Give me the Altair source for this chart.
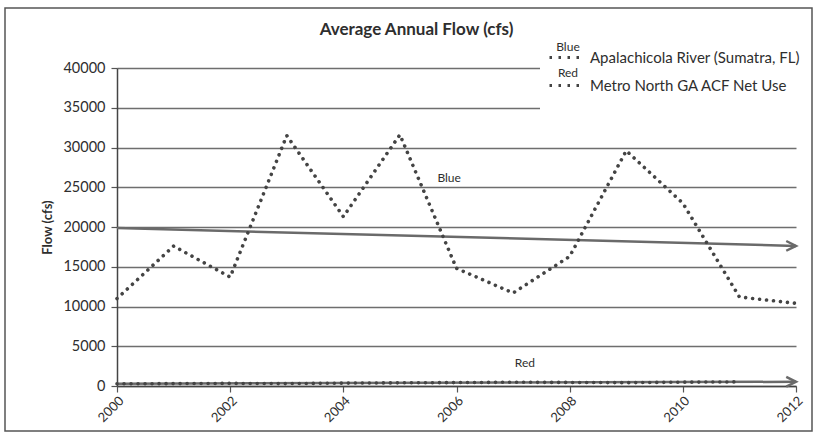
import altair as alt
import pandas as pd

# Annual average flow, Apalachicola River at Sumatra, FL (cfs)
years = [2000, 2001, 2002, 2003, 2004, 2005, 2006, 2007, 2008, 2009, 2010, 2011, 2012]
river_flow = [11000, 17600, 13700, 31500, 21300, 31600, 14800, 11700, 16300, 29600, 23000, 11200, 10400]

# Metro North Georgia ACF net water use (cfs)
use_years = [2000, 2001, 2002, 2003, 2004, 2005, 2006, 2007, 2008, 2009, 2010, 2011]
net_use = [280, 300, 330, 300, 360, 400, 430, 470, 450, 420, 480, 520]

river_name = "Apalachicola River (Sumatra, FL)"
use_name = "Metro North GA ACF Net Use"

# Hand-placed colour notes: two beside the series, two over the legend entries
note_years = [2005.87, 2007.21, 2007.97, 2007.97]
note_flows = [25300, 2000, 41800, 38500]
note_texts = ["Blue", "Red", "Blue", "Red"]

year_ticks = [2000, 2002, 2004, 2006, 2008, 2010, 2012]
flow_ticks = [0, 5000, 10000, 15000, 20000, 25000, 30000, 35000, 40000]

river_df = pd.DataFrame({"year": years, "flow": river_flow, "series": river_name})
use_df = pd.DataFrame({"year": use_years, "flow": net_use, "series": use_name})
notes_df = pd.DataFrame({"year": note_years, "flow": note_flows, "note": note_texts})
one_row = pd.DataFrame({"k": [0]})

FONT = "Lato"
INK = "#444444"
TREND = "#6a6a6a"
TEXT = "#2e2e2e"

x = alt.X(
    "year:Q",
    title=None,
    scale=alt.Scale(domain=[2000, 2012], nice=False, zero=False),
    axis=alt.Axis(values=year_ticks, format="d", labelAngle=-45, grid=False,
                  tickSize=6, tickColor="#555", tickWidth=1.2,
                  domainColor="#444", domainWidth=1.5,
                  labelFont=FONT, labelFontSize=13, labelColor=TEXT, labelPadding=2),
)
y = alt.Y(
    "flow:Q",
    title="Flow (cfs)",
    scale=alt.Scale(domain=[0, 40000], nice=False),
    axis=alt.Axis(values=flow_ticks, format="d", grid=True, gridColor="#6e6e6e", gridWidth=1.5,
                  tickSize=6, tickColor="#555", tickWidth=1.2,
                  domainColor="#444", domainWidth=1.5,
                  labelFont=FONT, labelFontSize=14.5, labelColor=TEXT, labelPadding=6,
                  titleFont=FONT, titleFontSize=13, titleFontWeight="bold",
                  titleColor=TEXT, titlePadding=8),
)


def series_legend(top):
    return alt.Legend(
        title=None, orient="none", legendX=431, legendY=top,
        symbolType="stroke", symbolDash=[2.5, 6.5], symbolStrokeWidth=3,
        symbolSize=900, symbolStrokeColor=INK,
        labelFont=FONT, labelFontSize=15, labelColor=TEXT, labelOffset=9,
        labelLimit=400, padding=0,
    )


# white panel behind the legend, hiding the upper gridlines
legend_panel = alt.Chart(one_row).mark_rect(color="white").encode(
    x=alt.value(423), x2=alt.value(695), y=alt.value(-32), y2=alt.value(44)
)

# outer chart border
frame = alt.Chart(one_row).mark_rect(fillOpacity=0, stroke="#555", strokeWidth=1.5).encode(
    x=alt.value(-112), x2=alt.value(695), y=alt.value(-60), y2=alt.value(363)
)

dots = dict(strokeDash=[0.01, 7], strokeCap="round", strokeWidth=3.6)

river_line = alt.Chart(river_df).mark_line(**dots).encode(
    x=x, y=y,
    color=alt.Color("series:N", scale=alt.Scale(range=[INK]), legend=series_legend(-27)),
)
use_line = alt.Chart(use_df).mark_line(**dots).encode(
    x=x, y=y,
    color=alt.Color("series:N", scale=alt.Scale(range=[INK]), legend=series_legend(1)),
)


def trend(df):
    base = alt.Chart(df).transform_regression("year", "flow", extent=[2000, 2012])
    line = base.mark_line(color=TREND, strokeWidth=2.5).encode(x=x, y=y)
    head = base.transform_filter("datum.year > 2011.5").mark_point(
        shape="M -1 -0.5 L 0 0 L -1 0.5", filled=False, size=380,
        stroke=TREND, strokeWidth=2.5, opacity=1,
    ).encode(x=x, y=y)
    return line + head


notes = alt.Chart(notes_df).mark_text(
    font=FONT, fontSize=12, color=TEXT, baseline="bottom"
).encode(x=x, y=y, text="note:N")

chart = alt.layer(
    legend_panel,
    trend(river_df),
    river_line,
    trend(use_df),
    use_line,
    notes,
    frame,
).resolve_scale(color="independent").properties(
    width=679,
    height=318,
    autosize="none",
    padding={"left": 117, "top": 68, "right": 19, "bottom": 49},
    background="white",
    title=alt.Title("Average Annual Flow (cfs)", font=FONT, fontSize=17,
                    fontWeight="bold", color=TEXT, anchor="middle", dx=-40,
                    offset=0, dy=32),
).configure_view(strokeWidth=0)

chart.save("out.html", embed_options={"renderer": "svg", "actions": False})
